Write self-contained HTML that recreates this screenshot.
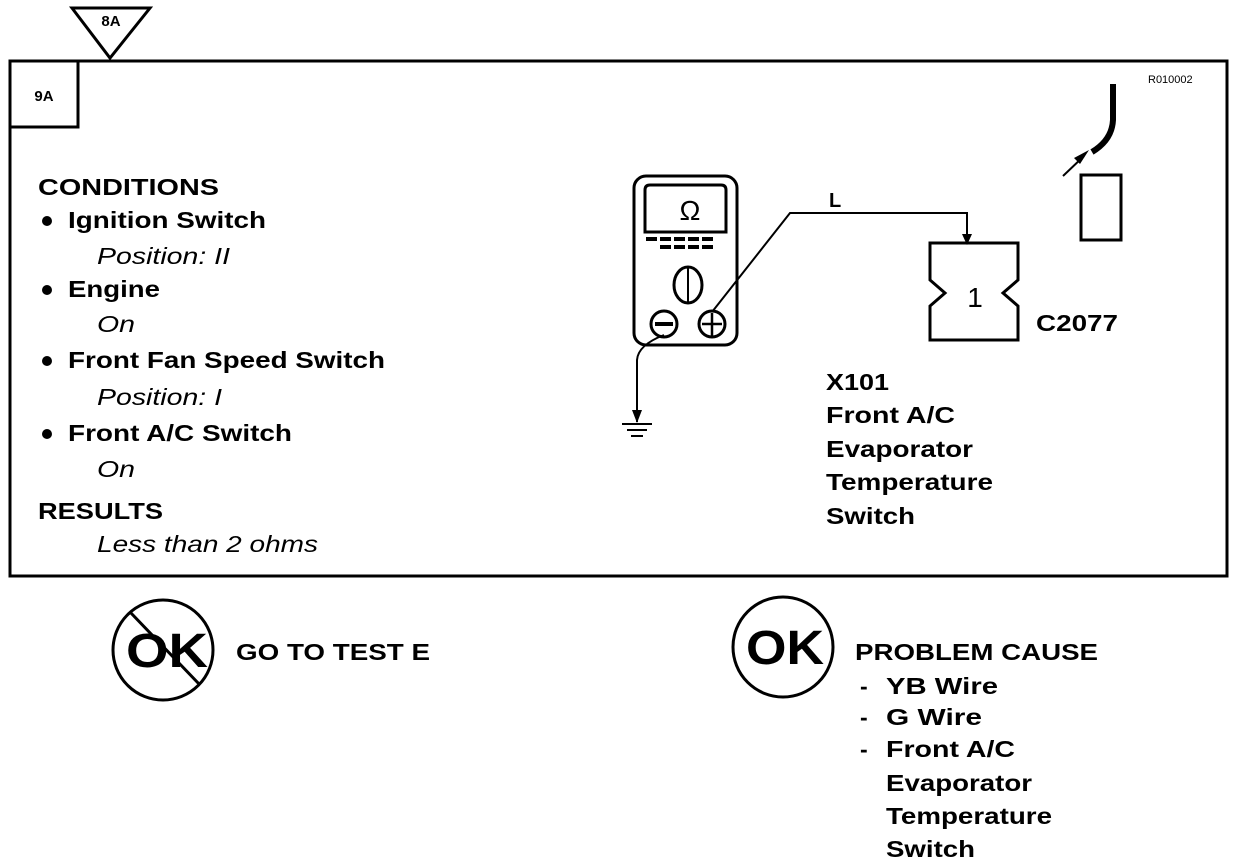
<!DOCTYPE html>
<html><head><style>body{margin:0;background:#fff}svg{display:block}</style></head><body>
<svg width="1248" height="864" viewBox="0 0 1248 864" xmlns="http://www.w3.org/2000/svg" font-family="Liberation Sans, Arial, sans-serif">
<rect width="1248" height="864" fill="#fff"/>
<g fill="none" stroke="#000">
<rect x="10" y="61" width="1217" height="515" stroke-width="3"/>
<rect x="10" y="61" width="68" height="66" stroke-width="3"/>
<polygon points="72,8 150,8 110,58" stroke-width="3"/>
<rect x="634" y="176" width="103" height="169" rx="12" stroke-width="3"/>
<path d="M645,232 V190 Q645,185 650,185 H721 Q726,185 726,190 V232 Z" stroke-width="3"/>
<ellipse cx="688" cy="285" rx="14" ry="18" stroke-width="3"/>
<line x1="688" y1="268" x2="688" y2="302" stroke-width="2"/>
<circle cx="664" cy="324" r="13" stroke-width="3"/>
<circle cx="712" cy="324" r="13" stroke-width="3"/>
<line x1="655" y1="324" x2="673" y2="324" stroke-width="4"/>
<line x1="702" y1="324" x2="722" y2="324" stroke-width="2.5"/>
<line x1="712" y1="313" x2="712" y2="336" stroke-width="2.5"/>
<polyline points="712,312 790,213 967,213 967,238" stroke-width="2"/>
<path d="M664,335 Q638,345 637,360 V422" stroke-width="2"/>
<line x1="622" y1="424" x2="652" y2="424" stroke-width="2"/>
<line x1="627" y1="430" x2="647" y2="430" stroke-width="2"/>
<line x1="631" y1="436" x2="643" y2="436" stroke-width="2"/>
<path d="M930,243 H1018 V280 L1003,293 L1018,306 V340 H930 V306 L945,293 L930,280 Z" stroke-width="3"/>
<rect x="1081" y="175" width="40" height="65" stroke-width="3"/>
<path d="M1113,84 V120 Q1112,140 1092,152" stroke-width="6"/>
<line x1="1063" y1="176" x2="1084" y2="156" stroke-width="2"/>
<circle cx="163" cy="650" r="50" stroke-width="3"/>
<line x1="130" y1="612" x2="200" y2="685" stroke-width="3"/>
<circle cx="783" cy="647" r="50" stroke-width="3"/>
</g>
<g fill="#000">
<polygon points="962,234 972,234 967,245"/>
<polygon points="632,410 642,410 637,423"/>
<polygon points="1089,150 1080,164 1074,158"/>
<rect x="646" y="237" width="11" height="4"/><rect x="660" y="237" width="11" height="4"/><rect x="674" y="237" width="11" height="4"/><rect x="688" y="237" width="11" height="4"/><rect x="702" y="237" width="11" height="4"/>
<rect x="660" y="245" width="11" height="4"/><rect x="674" y="245" width="11" height="4"/><rect x="688" y="245" width="11" height="4"/><rect x="702" y="245" width="11" height="4"/>
<circle cx="47" cy="221" r="5"/><circle cx="47" cy="290" r="5"/><circle cx="47" cy="361" r="5"/><circle cx="47" cy="434" r="5"/>
</g>
<g font-weight="bold" fill="#000">
<text x="111" y="26" font-size="15" text-anchor="middle">8A</text>
<text x="44" y="101" font-size="15" text-anchor="middle">9A</text>
<text x="690" y="220" font-size="28" text-anchor="middle" font-weight="normal">Ω</text>
<text x="829" y="207" font-size="20">L</text>
<text x="1148" y="83" font-size="11" font-weight="normal">R010002</text>
<g font-size="23">
<text x="38" y="195" textLength="181" lengthAdjust="spacingAndGlyphs">CONDITIONS</text>
<text x="68" y="228" textLength="198" lengthAdjust="spacingAndGlyphs">Ignition Switch</text>
<text x="68" y="297" textLength="92" lengthAdjust="spacingAndGlyphs">Engine</text>
<text x="68" y="368" textLength="317" lengthAdjust="spacingAndGlyphs">Front Fan Speed Switch</text>
<text x="68" y="441" textLength="224" lengthAdjust="spacingAndGlyphs">Front A/C Switch</text>
<text x="38" y="519" textLength="125" lengthAdjust="spacingAndGlyphs">RESULTS</text>
<text x="1036" y="331" textLength="82" lengthAdjust="spacingAndGlyphs">C2077</text>
<text x="826" y="390" textLength="63" lengthAdjust="spacingAndGlyphs">X101</text>
<text x="826" y="423" textLength="129" lengthAdjust="spacingAndGlyphs">Front A/C</text>
<text x="826" y="457" textLength="147" lengthAdjust="spacingAndGlyphs">Evaporator</text>
<text x="826" y="490" textLength="167" lengthAdjust="spacingAndGlyphs">Temperature</text>
<text x="826" y="524" textLength="89" lengthAdjust="spacingAndGlyphs">Switch</text>
<text x="236" y="660" textLength="194" lengthAdjust="spacingAndGlyphs">GO TO TEST E</text>
<text x="855" y="660" textLength="243" lengthAdjust="spacingAndGlyphs">PROBLEM CAUSE</text>
<text x="860" y="694">-</text><text x="886" y="694" textLength="112" lengthAdjust="spacingAndGlyphs">YB  Wire</text>
<text x="860" y="725">-</text><text x="886" y="725" textLength="96" lengthAdjust="spacingAndGlyphs">G  Wire</text>
<text x="860" y="757">-</text><text x="886" y="757" textLength="129" lengthAdjust="spacingAndGlyphs">Front A/C</text>
<text x="886" y="791" textLength="146" lengthAdjust="spacingAndGlyphs">Evaporator</text>
<text x="886" y="824" textLength="166" lengthAdjust="spacingAndGlyphs">Temperature</text>
<text x="886" y="857" textLength="89" lengthAdjust="spacingAndGlyphs">Switch</text>
</g>
<text x="126" y="667" font-size="48" textLength="82" lengthAdjust="spacingAndGlyphs">OK</text>
<text x="746" y="664" font-size="48" textLength="78" lengthAdjust="spacingAndGlyphs">OK</text>
</g>
<g font-style="italic" font-size="23" fill="#000">
<text x="97" y="264" textLength="133" lengthAdjust="spacingAndGlyphs">Position: II</text>
<text x="97" y="332" textLength="38" lengthAdjust="spacingAndGlyphs">On</text>
<text x="97" y="405" textLength="125" lengthAdjust="spacingAndGlyphs">Position: I</text>
<text x="97" y="477" textLength="38" lengthAdjust="spacingAndGlyphs">On</text>
<text x="97" y="552" textLength="221" lengthAdjust="spacingAndGlyphs">Less than 2 ohms</text>
</g>
<text x="975" y="307" font-size="28" text-anchor="middle" fill="#000">1</text>
</svg>
</body></html>
